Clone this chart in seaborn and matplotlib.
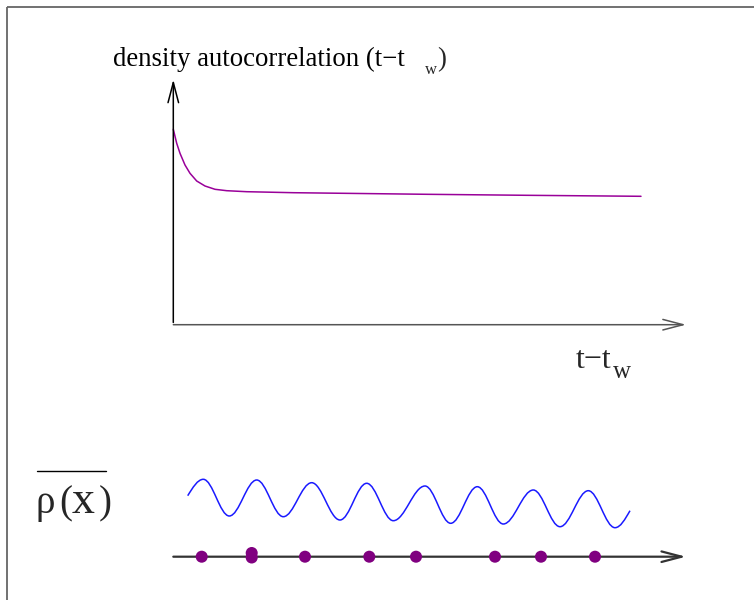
import numpy as np
import pandas as pd
import matplotlib
matplotlib.use("Agg")
import matplotlib.pyplot as plt
from matplotlib.path import Path
from matplotlib.patches import PathPatch
import seaborn as sns

# Canvas units: one unit per pixel, y growing downward
W, H = 754, 600

# Upper panel: density autocorrelation versus t - t_w
decay_x = [173.3, 176.7, 180.0, 185.0, 190.0, 196.7, 205.0, 215.0, 226.7,
           246.7, 293.3, 426.7, 526.7, 641.0]
decay_y = [129.3, 143.3, 153.3, 165.0, 173.3, 181.0, 186.0, 189.3, 190.7,
           191.7, 192.7, 194.3, 195.3, 196.3]

# Lower panel: averaged density profile (start, alternating extrema, end)
wave_x = [187.7, 203.3, 229.3, 256.7, 283.3, 311.7, 340.0, 366.7, 393.3,
          425.0, 450.7, 477.3, 503.3, 533.3, 560.0, 588.3, 615.0, 630.0]
wave_y = [495.7, 479.3, 516.0, 480.0, 516.7, 482.7, 520.0, 483.3, 520.7,
          486.0, 523.3, 486.7, 524.0, 490.0, 526.7, 490.7, 527.7, 510.7]

# Particle positions along the line
dot_x = [201.7, 251.7, 251.7, 305.0, 369.3, 416.0, 495.0, 541.0, 595.0]
dot_y = [556.7, 553.0, 557.5, 556.7, 556.7, 556.7, 556.7, 556.7, 556.7]

sns.set_theme(style="white")
plt.rcParams["font.family"] = ["Liberation Serif", "DejaVu Serif"]

fig = plt.figure(figsize=(W / 100, H / 100), dpi=100)
ax = fig.add_axes([0, 0, 1, 1])
ax.set_xlim(0, W)
ax.set_ylim(H, 0)
ax.axis("off")

# page frame (top and left edges)
ax.plot([7, W], [6.5, 6.5], color="#666666", lw=1.3, solid_capstyle="butt")
ax.plot([7, 7], [6.5, H], color="#666666", lw=1.3, solid_capstyle="butt")

def arrow(x0, y0, x1, y1, color, lw):
    ax.annotate("", xy=(x1, y1), xytext=(x0, y0),
                arrowprops=dict(arrowstyle="->,head_length=1.45,head_width=0.38",
                                mutation_scale=10, color=color, lw=lw,
                                shrinkA=0, shrinkB=0))

# upper axes
arrow(173.3, 322.5, 173.3, 79.5, "black", 1.1)
arrow(173.3, 324.7, 686, 324.7, "#555555", 1.1)

# decay curve
sns.lineplot(x=decay_x, y=decay_y, ax=ax, sort=False, estimator=None,
             color="#990099", lw=1.1)

# density wave drawn as smooth half-waves between extrema
verts = [(wave_x[0], wave_y[0])]
codes = [Path.MOVETO]
for i in range(1, len(wave_x)):
    xa, ya = wave_x[i - 1], wave_y[i - 1]
    xb, yb = wave_x[i], wave_y[i]
    dx = xb - xa
    if i == 1:
        c1 = (xa + dx * 0.33, ya + (yb - ya) * 0.5)
    else:
        c1 = (xa + dx * 0.36, ya)
    if i == len(wave_x) - 1:
        c2 = (xb - dx * 0.33, yb + (ya - yb) * 0.5)
    else:
        c2 = (xb - dx * 0.36, yb)
    verts += [c1, c2, (xb, yb)]
    codes += [Path.CURVE4] * 3
ax.add_patch(PathPatch(Path(verts, codes), facecolor="none",
                       edgecolor="#1a1aff", lw=1.1))

# lower baseline and particles
arrow(173.3, 556.7, 686, 556.7, "#333333", 1.6)
sns.scatterplot(x=dot_x, y=dot_y, ax=ax, s=75, color="#800080",
                edgecolor="none", zorder=5)

# labels
ax.text(113, 66, "density autocorrelation (t\u2212t", fontsize=19.3,
        va="baseline", ha="left", color="black")
ax.text(425, 74.5, "w", fontsize=12, va="baseline", ha="left")
ax.text(437, 66, ")", fontsize=19.3, va="baseline", ha="left")

ax.text(576, 368, "t\u2212t", fontsize=23, va="baseline", ha="left")
ax.text(613, 377.5, "w", fontsize=18, va="baseline", ha="left")

ax.text(36, 513, "\u03c1", fontsize=28, va="baseline", ha="left")
ax.text(59, 513, "(", fontsize=28, va="baseline", ha="left")
ax.text(71.5, 513, "x", fontsize=33, va="baseline", ha="left")
ax.text(98.5, 513, ")", fontsize=28, va="baseline", ha="left")
ax.plot([37, 106], [470.7, 470.7], color="black", lw=1.0)

fig.savefig("out.png", dpi=100)
